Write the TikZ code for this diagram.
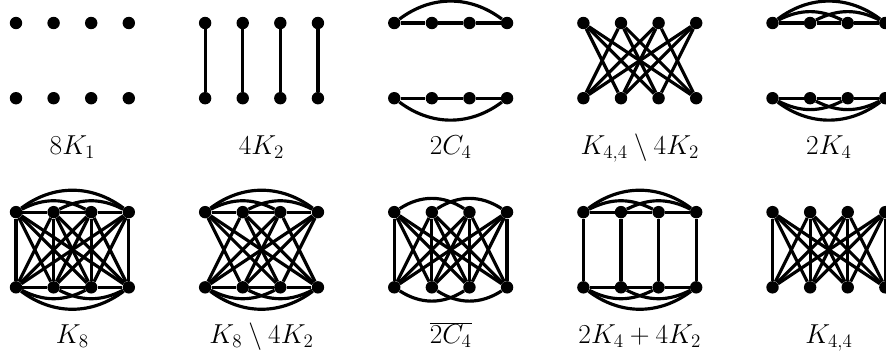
\documentclass[tikz,border=0pt]{standalone}
\newcommand{\myKT}[1]{%
  \draw[edge] (p#1-t1) -- (p#1-t2) -- (p#1-t3) -- (p#1-t4);
  \draw[edge] (p#1-t1) to[bend left=27] (p#1-t3);
  \draw[edge] (p#1-t2) to[bend left=27] (p#1-t4);
  \draw[edge] (p#1-t1) to[bend left=37] (p#1-t4);}
\newcommand{\myKB}[1]{%
  \draw[edge] (p#1-b1) -- (p#1-b2) -- (p#1-b3) -- (p#1-b4);
  \draw[edge] (p#1-b1) to[bend right=27] (p#1-b3);
  \draw[edge] (p#1-b2) to[bend right=27] (p#1-b4);
  \draw[edge] (p#1-b1) to[bend right=37] (p#1-b4);}
\newcommand{\myVert}[1]{%
  \foreach \j in {1,2,3,4}{\draw[edge] (p#1-t\j) -- (p#1-b\j);}}
\newcommand{\myCross}[1]{%
  \foreach \i in {1,2,3,4}{\foreach \j in {1,2,3,4}{%
    \ifnum\i=\j\relax\else\draw[edge] (p#1-t\i) -- (p#1-b\j);\fi}}}
\begin{document}
\begin{tikzpicture}[
  vtx/.style={circle,fill=black,inner sep=0pt,minimum size=0.33cm},
  edge/.style={line width=2.4pt},
  lbl/.style={anchor=base,font=\fontsize{21}{25}\selectfont}
]
\useasboundingbox (-0.4255,0.612) rectangle (23.138,-8.856);
\clip (-0.4255,0.612) rectangle (23.138,-8.856);
\foreach \n/\ox/\oy in {1/0/0,2/5.03/0,3/10.06/0,4/15.09/0,5/20.12/0,6/0/-5.03,7/5.03/-5.03,8/10.06/-5.03,9/15.09/-5.03,10/20.12/-5.03}{
  \foreach \j in {1,2,3,4}{
    \node[vtx] (p\n-t\j) at ({\ox+\j-1},\oy) {};
    \node[vtx] (p\n-b\j) at ({\ox+\j-1},\oy-2) {};
  }
  \coordinate (p\n-c) at ({\ox+1.5},{\oy-3.5});
}
% panel 2: 4K2
\myVert{2}
% panel 3: 2C4
\draw[edge] (p3-t1) -- (p3-t2) -- (p3-t3) -- (p3-t4);
\draw[edge] (p3-t1) to[bend left=37] (p3-t4);
\draw[edge] (p3-b1) -- (p3-b2) -- (p3-b3) -- (p3-b4);
\draw[edge] (p3-b1) to[bend right=37] (p3-b4);
% panel 4: K44 minus 4K2
\myCross{4}
% panel 5: 2K4
\myKT{5}\myKB{5}
% panel 6: K8
\myKT{6}\myKB{6}\myCross{6}\myVert{6}
% panel 7: K8 minus 4K2
\myKT{7}\myKB{7}\myCross{7}
% panel 8: complement of 2C4
\draw[edge] (p8-t1) to[bend left=33] (p8-t3);
\draw[edge] (p8-t2) to[bend left=33] (p8-t4);
\draw[edge] (p8-b1) to[bend right=33] (p8-b3);
\draw[edge] (p8-b2) to[bend right=33] (p8-b4);
\myCross{8}\myVert{8}
% panel 9: 2K4 + 4K2
\myKT{9}\myKB{9}\myVert{9}
% panel 10: K44
\myCross{10}\myVert{10}
% labels
\node[lbl] (l1) at (p1-c) {$8K_1$};
\node[lbl] (l2) at (p2-c) {$4K_2$};
\node[lbl] (l3) at (p3-c) {$2C_4$};
\node[lbl] (l4) at (p4-c) {$K_{4,4}\setminus 4K_2$};
\node[lbl] (l5) at (p5-c) {$2K_4$};
\node[lbl] (l6) at (p6-c) {$K_8$};
\node[lbl] (l7) at (p7-c) {$K_8\setminus 4K_2$};
\node[lbl] (l8) at (p8-c) {$\overline{2C_4}$};
\node[lbl] (l9) at (p9-c) {$2K_4+4K_2$};
\node[lbl] (l10) at (p10-c) {$K_{4,4}$};
\end{tikzpicture}
\end{document}
